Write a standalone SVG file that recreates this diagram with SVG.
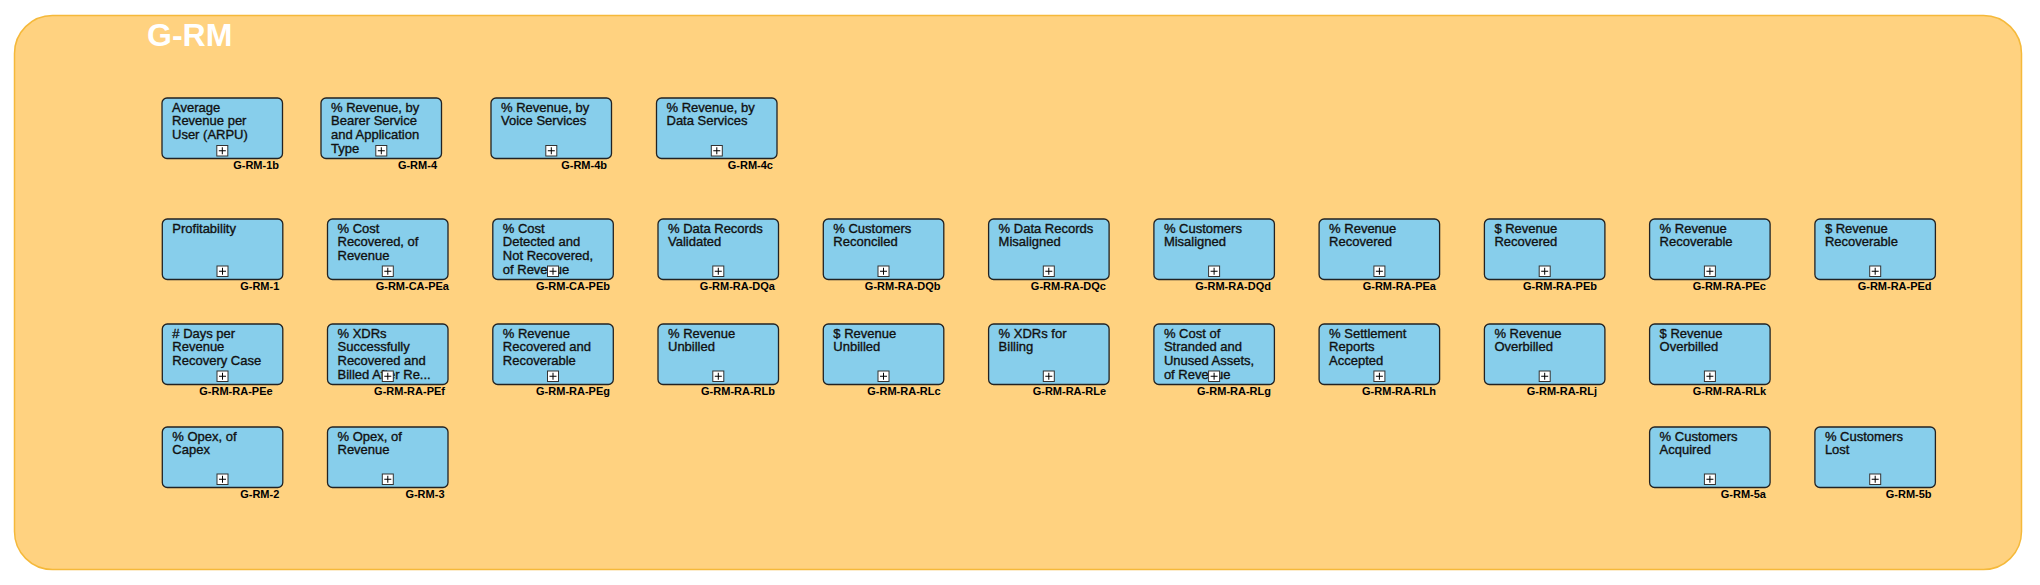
<svg xmlns="http://www.w3.org/2000/svg" width="2040" height="585" viewBox="0 0 2040 585">
<style>
.bg{fill:#FFD280;stroke:#F5B93A;stroke-width:1.5}
.title{font-family:"Liberation Sans",Arial,sans-serif;font-weight:bold;font-size:32px;fill:#fff}
.box{fill:#87CEEB;stroke:#222;stroke-width:1.3}
.t{font-family:"Liberation Sans",Arial,sans-serif;font-size:13px;fill:#111;stroke:#111;stroke-width:0.35}
.lbl{font-family:"Liberation Sans",Arial,sans-serif;font-weight:bold;font-size:11px;fill:#000;text-anchor:end}
.ic{fill:#fff;stroke:#333;stroke-width:1}
.pl{stroke:#000;stroke-width:1}
</style>
<defs>
<g id="icon"><rect class="ic" x="-5.5" y="0" width="11" height="10.5"/><path class="pl" d="M-3.5,5.25H3.5M0,1.75V8.75"/></g>
</defs>
<rect class="bg" x="14.5" y="15.5" width="2007" height="554" rx="38" ry="38"/>
<text class="title" x="147" y="46">G-RM</text>
<g id="connectors"/>

<g id="G-RM-1b"><rect class="box" x="162" y="98" width="120.5" height="60.5" rx="5"/><text class="t" x="172" y="111.5">Average</text><text class="t" x="172" y="125.3">Revenue per</text><text class="t" x="172" y="139">User (ARPU)</text><use href="#icon" x="222.3" y="145.5"/><text class="lbl" x="279" y="168.5">G-RM-1b</text></g>
<g id="G-RM-4"><rect class="box" x="321" y="98" width="120.5" height="60.5" rx="5"/><text class="t" x="331" y="111.5">% Revenue, by</text><text class="t" x="331" y="125.3">Bearer Service</text><text class="t" x="331" y="139">and Application</text><text class="t" x="331" y="152.8">Type</text><use href="#icon" x="381.3" y="145.5"/><text class="lbl" x="437" y="168.5">G-RM-4</text></g>
<g id="G-RM-4b"><rect class="box" x="491" y="98" width="120.5" height="60.5" rx="5"/><text class="t" x="501" y="111.5">% Revenue, by</text><text class="t" x="501" y="125.3">Voice Services</text><use href="#icon" x="551.3" y="145.5"/><text class="lbl" x="607" y="168.5">G-RM-4b</text></g>
<g id="G-RM-4c"><rect class="box" x="656.5" y="98" width="120.5" height="60.5" rx="5"/><text class="t" x="666.5" y="111.5">% Revenue, by</text><text class="t" x="666.5" y="125.3">Data Services</text><use href="#icon" x="716.8" y="145.5"/><text class="lbl" x="773" y="168.5">G-RM-4c</text></g>

<g id="G-RM-1"><rect class="box" x="162.3" y="219" width="120.5" height="60.5" rx="5"/><text class="t" x="172.3" y="232.5">Profitability</text><use href="#icon" x="222.5" y="266"/><text class="lbl" x="279.3" y="289.5">G-RM-1</text></g>
<g id="G-RM-CA-PEa"><rect class="box" x="327.5" y="219" width="120.5" height="60.5" rx="5"/><text class="t" x="337.5" y="232.5">% Cost</text><text class="t" x="337.5" y="246.3">Recovered, of</text><text class="t" x="337.5" y="260">Revenue</text><use href="#icon" x="387.8" y="266"/><text class="lbl" x="449" y="289.5">G-RM-CA-PEa</text></g>
<g id="G-RM-CA-PEb"><rect class="box" x="492.8" y="219" width="120.5" height="60.5" rx="5"/><text class="t" x="502.8" y="232.5">% Cost</text><text class="t" x="502.8" y="246.3">Detected and</text><text class="t" x="502.8" y="260">Not Recovered,</text><text class="t" x="502.8" y="273.8">of Revenue</text><use href="#icon" x="553" y="266"/><text class="lbl" x="610" y="289.5">G-RM-CA-PEb</text></g>
<g id="G-RM-RA-DQa"><rect class="box" x="658" y="219" width="120.5" height="60.5" rx="5"/><text class="t" x="668" y="232.5">% Data Records</text><text class="t" x="668" y="246.3">Validated</text><use href="#icon" x="718.3" y="266"/><text class="lbl" x="775" y="289.5">G-RM-RA-DQa</text></g>
<g id="G-RM-RA-DQb"><rect class="box" x="823.3" y="219" width="120.5" height="60.5" rx="5"/><text class="t" x="833.3" y="232.5">% Customers</text><text class="t" x="833.3" y="246.3">Reconciled</text><use href="#icon" x="883.5" y="266"/><text class="lbl" x="940.6" y="289.5">G-RM-RA-DQb</text></g>
<g id="G-RM-RA-DQc"><rect class="box" x="988.6" y="219" width="120.5" height="60.5" rx="5"/><text class="t" x="998.6" y="232.5">% Data Records</text><text class="t" x="998.6" y="246.3">Misaligned</text><use href="#icon" x="1048.8" y="266"/><text class="lbl" x="1106" y="289.5">G-RM-RA-DQc</text></g>
<g id="G-RM-RA-DQd"><rect class="box" x="1153.9" y="219" width="120.5" height="60.5" rx="5"/><text class="t" x="1163.9" y="232.5">% Customers</text><text class="t" x="1163.9" y="246.3">Misaligned</text><use href="#icon" x="1214.1" y="266"/><text class="lbl" x="1271" y="289.5">G-RM-RA-DQd</text></g>
<g id="G-RM-RA-PEa"><rect class="box" x="1319.1" y="219" width="120.5" height="60.5" rx="5"/><text class="t" x="1329.1" y="232.5">% Revenue</text><text class="t" x="1329.1" y="246.3">Recovered</text><use href="#icon" x="1379.4" y="266"/><text class="lbl" x="1436" y="289.5">G-RM-RA-PEa</text></g>
<g id="G-RM-RA-PEb"><rect class="box" x="1484.4" y="219" width="120.5" height="60.5" rx="5"/><text class="t" x="1494.4" y="232.5">$ Revenue</text><text class="t" x="1494.4" y="246.3">Recovered</text><use href="#icon" x="1544.7" y="266"/><text class="lbl" x="1597" y="289.5">G-RM-RA-PEb</text></g>
<g id="G-RM-RA-PEc"><rect class="box" x="1649.6" y="219" width="120.5" height="60.5" rx="5"/><text class="t" x="1659.6" y="232.5">% Revenue</text><text class="t" x="1659.6" y="246.3">Recoverable</text><use href="#icon" x="1709.9" y="266"/><text class="lbl" x="1766" y="289.5">G-RM-RA-PEc</text></g>
<g id="G-RM-RA-PEd"><rect class="box" x="1814.9" y="219" width="120.5" height="60.5" rx="5"/><text class="t" x="1824.9" y="232.5">$ Revenue</text><text class="t" x="1824.9" y="246.3">Recoverable</text><use href="#icon" x="1875.2" y="266"/><text class="lbl" x="1931.6" y="289.5">G-RM-RA-PEd</text></g>

<g id="G-RM-RA-PEe"><rect class="box" x="162.3" y="324" width="120.5" height="60.5" rx="5"/><text class="t" x="172.3" y="337.5"># Days per</text><text class="t" x="172.3" y="351.3">Revenue</text><text class="t" x="172.3" y="365">Recovery Case</text><use href="#icon" x="222.5" y="371"/><text class="lbl" x="272.6" y="394.5">G-RM-RA-PEe</text></g>
<g id="G-RM-RA-PEf"><rect class="box" x="327.5" y="324" width="120.5" height="60.5" rx="5"/><text class="t" x="337.5" y="337.5">% XDRs</text><text class="t" x="337.5" y="351.3">Successfully</text><text class="t" x="337.5" y="365">Recovered and</text><text class="t" x="337.5" y="378.8">Billed After Re...</text><use href="#icon" x="387.8" y="371"/><text class="lbl" x="445" y="394.5">G-RM-RA-PEf</text></g>
<g id="G-RM-RA-PEg"><rect class="box" x="492.8" y="324" width="120.5" height="60.5" rx="5"/><text class="t" x="502.8" y="337.5">% Revenue</text><text class="t" x="502.8" y="351.3">Recovered and</text><text class="t" x="502.8" y="365">Recoverable</text><use href="#icon" x="553" y="371"/><text class="lbl" x="610" y="394.5">G-RM-RA-PEg</text></g>
<g id="G-RM-RA-RLb"><rect class="box" x="658" y="324" width="120.5" height="60.5" rx="5"/><text class="t" x="668" y="337.5">% Revenue</text><text class="t" x="668" y="351.3">Unbilled</text><use href="#icon" x="718.3" y="371"/><text class="lbl" x="775" y="394.5">G-RM-RA-RLb</text></g>
<g id="G-RM-RA-RLc"><rect class="box" x="823.3" y="324" width="120.5" height="60.5" rx="5"/><text class="t" x="833.3" y="337.5">$ Revenue</text><text class="t" x="833.3" y="351.3">Unbilled</text><use href="#icon" x="883.5" y="371"/><text class="lbl" x="940.6" y="394.5">G-RM-RA-RLc</text></g>
<g id="G-RM-RA-RLe"><rect class="box" x="988.6" y="324" width="120.5" height="60.5" rx="5"/><text class="t" x="998.6" y="337.5">% XDRs for</text><text class="t" x="998.6" y="351.3">Billing</text><use href="#icon" x="1048.8" y="371"/><text class="lbl" x="1106" y="394.5">G-RM-RA-RLe</text></g>
<g id="G-RM-RA-RLg"><rect class="box" x="1153.9" y="324" width="120.5" height="60.5" rx="5"/><text class="t" x="1163.9" y="337.5">% Cost of</text><text class="t" x="1163.9" y="351.3">Stranded and</text><text class="t" x="1163.9" y="365">Unused Assets,</text><text class="t" x="1163.9" y="378.8">of Revenue</text><use href="#icon" x="1214.1" y="371"/><text class="lbl" x="1271" y="394.5">G-RM-RA-RLg</text></g>
<g id="G-RM-RA-RLh"><rect class="box" x="1319.1" y="324" width="120.5" height="60.5" rx="5"/><text class="t" x="1329.1" y="337.5">% Settlement</text><text class="t" x="1329.1" y="351.3">Reports</text><text class="t" x="1329.1" y="365">Accepted</text><use href="#icon" x="1379.4" y="371"/><text class="lbl" x="1436" y="394.5">G-RM-RA-RLh</text></g>
<g id="G-RM-RA-RLj"><rect class="box" x="1484.4" y="324" width="120.5" height="60.5" rx="5"/><text class="t" x="1494.4" y="337.5">% Revenue</text><text class="t" x="1494.4" y="351.3">Overbilled</text><use href="#icon" x="1544.7" y="371"/><text class="lbl" x="1597" y="394.5">G-RM-RA-RLj</text></g>
<g id="G-RM-RA-RLk"><rect class="box" x="1649.6" y="324" width="120.5" height="60.5" rx="5"/><text class="t" x="1659.6" y="337.5">$ Revenue</text><text class="t" x="1659.6" y="351.3">Overbilled</text><use href="#icon" x="1709.9" y="371"/><text class="lbl" x="1766" y="394.5">G-RM-RA-RLk</text></g>

<g id="G-RM-2"><rect class="box" x="162.3" y="427" width="120.5" height="60.5" rx="5"/><text class="t" x="172.3" y="440.5">% Opex, of</text><text class="t" x="172.3" y="454.3">Capex</text><use href="#icon" x="222.5" y="474"/><text class="lbl" x="279.3" y="497.5">G-RM-2</text></g>
<g id="G-RM-3"><rect class="box" x="327.5" y="427" width="120.5" height="60.5" rx="5"/><text class="t" x="337.5" y="440.5">% Opex, of</text><text class="t" x="337.5" y="454.3">Revenue</text><use href="#icon" x="387.8" y="474"/><text class="lbl" x="444.5" y="497.5">G-RM-3</text></g>
<g id="G-RM-5a"><rect class="box" x="1649.6" y="427" width="120.5" height="60.5" rx="5"/><text class="t" x="1659.6" y="440.5">% Customers</text><text class="t" x="1659.6" y="454.3">Acquired</text><use href="#icon" x="1709.9" y="474"/><text class="lbl" x="1766" y="497.5">G-RM-5a</text></g>
<g id="G-RM-5b"><rect class="box" x="1814.9" y="427" width="120.5" height="60.5" rx="5"/><text class="t" x="1824.9" y="440.5">% Customers</text><text class="t" x="1824.9" y="454.3">Lost</text><use href="#icon" x="1875.2" y="474"/><text class="lbl" x="1931.6" y="497.5">G-RM-5b</text></g>
</svg>
